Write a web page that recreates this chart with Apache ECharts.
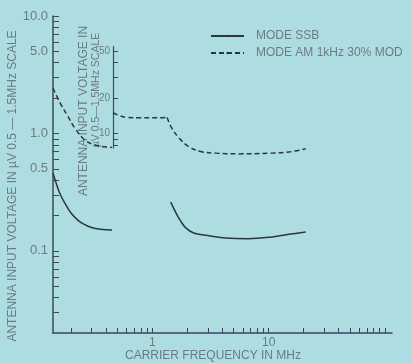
<!DOCTYPE html>
<html>
<head>
<meta charset="utf-8">
<script src="https://cdn.jsdelivr.net/npm/echarts@6/dist/echarts.min.js"></script>
<style>
  html, body { margin: 0; padding: 0; background: #aedde1; }
  #chart { width: 412px; height: 363px; }
</style>
</head>
<body>
<div id="chart"></div>
<script>
// carrier frequency (MHz) / antenna input voltage (uV) pairs
const ssbLowFreq = [0.14, 0.15, 0.16, 0.175, 0.2, 0.23, 0.26, 0.3, 0.36, 0.45];
const ssbLowLevel = [0.46, 0.37, 0.31, 0.26, 0.21, 0.182, 0.168, 0.158, 0.153, 0.151];
const ssbHighFreq = [1.44, 1.6, 1.75, 1.94, 2.27, 2.87, 4.25, 6.67, 10.5, 15.5, 20.8];
const ssbHighLevel = [0.26, 0.21, 0.18, 0.157, 0.142, 0.136, 0.129, 0.127, 0.131, 0.139, 0.145];

const amLowFreq = [0.14, 0.161, 0.185, 0.216, 0.263, 0.317, 0.39, 0.45];
const amLowLevel = [2.44, 1.82, 1.44, 1.11, 0.88, 0.80, 0.77, 0.76];
// 0.5 - 1.5 MHz part, read on the inset scale
const amMidFreq = [0.46, 0.52, 0.6, 0.8, 1.1, 1.34];
const amMidLevel = [15.0, 14.2, 13.7, 13.6, 13.6, 13.7];
const amHighFreq = [1.34, 1.47, 1.69, 2.06, 2.65, 3.49, 5.48, 10.5, 15.5, 20.8];
const amHighLevel = [1.37, 1.11, 0.92, 0.77, 0.70, 0.68, 0.67, 0.68, 0.70, 0.74];

const xTicks = [0.2, 0.3, 0.4, 0.5, 0.6, 0.7, 0.8, 0.9, 1, 2, 3, 4, 5, 6, 7, 8, 9, 10,
  20, 30, 40, 50, 60, 70, 80, 90, 100];
const xLabels = [1, 10];
const yTicks = [0.03, 0.04, 0.05, 0.06, 0.07, 0.08, 0.09, 0.1, 0.2, 0.3, 0.4, 0.5, 0.6, 0.7,
  0.8, 0.9, 1, 2, 3, 4, 5, 6, 7, 8, 9, 10];
const yLabels = [0.1, 0.5, 1, 5, 10];
const insetTicks = [8, 9, 10, 20, 30, 40, 50];
const insetLabels = [10, 20, 50];

const SSB = 'MODE SSB';
const AM = 'MODE AM 1kHz 30% MOD';

const font = "'Liberation Sans', Arial, sans-serif";
const txt = '#6a7c83';
const ink = '#2c373c';

// keep inset x scale identical to main one (main grid 53..392 px)
const xMin = 0.14, xMax = 115;
const pxPerDecade = 339 / (Math.log10(xMax) - Math.log10(xMin));
const insetXMin = Math.pow(10, Math.log10(xMin) + 60 / pxPerDecade);

const pairs = (xs, ys) => xs.map((x, i) => [x, ys[i]]);

const chart = echarts.init(document.getElementById('chart'));

const lineSeries = (name, data, dashed, idx) => ({
  name: name,
  type: 'line',
  xAxisIndex: idx || 0,
  yAxisIndex: idx || 0,
  data: data,
  smooth: 0.4,
  symbol: 'none',
  lineStyle: { color: ink, width: 1.5, type: dashed ? [5, 3] : 'solid' },
  itemStyle: { color: ink }
});

chart.setOption({
  animation: false,
  backgroundColor: '#aedde1',
  textStyle: { fontFamily: font },
  grid: [
    { left: 53, right: 20, top: 16, bottom: 30 },
    { left: 113, right: 20, top: 46.5, bottom: 363 - 148.1 }
  ],
  legend: {
    left: 205,
    top: 25,
    orient: 'vertical',
    itemWidth: 33,
    itemHeight: 3,
    itemGap: 5,
    data: [SSB, AM],
    textStyle: { color: txt, fontSize: 12, fontFamily: font, padding: [0, 0, 0, 7] }
  },
  xAxis: [{
    type: 'log',
    min: xMin,
    max: xMax,
    gridIndex: 0,
    axisLine: { show: true, lineStyle: { color: '#3b3f62', width: 1.5 } },
    axisTick: { show: true, inside: true, length: 5, customValues: xTicks,
      lineStyle: { color: '#3b3f62' } },
    axisLabel: { customValues: xLabels, color: txt, fontSize: 12, margin: 4,
      formatter: v => String(Math.round(v)) },
    splitLine: { show: false },
    minorTick: { show: false }
  }, {
    type: 'log',
    min: insetXMin,
    max: xMax,
    gridIndex: 1,
    show: false
  }],
  yAxis: [{
    type: 'log',
    min: 0.02,
    max: 10,
    gridIndex: 0,
    axisLine: { show: true, lineStyle: { color: '#3e4b51', width: 1.5 } },
    axisTick: { show: true, inside: true, length: 6, customValues: yTicks,
      lineStyle: { color: '#3e4b51' } },
    axisLabel: { customValues: yLabels, color: txt, fontSize: 13, margin: 5,
      formatter: v => v.toFixed(1) },
    splitLine: { show: false }
  }, {
    type: 'log',
    min: 7.5,
    max: 55,
    gridIndex: 1,
    axisLine: { show: true, lineStyle: { color: '#3e4b51', width: 1.2 } },
    axisTick: { show: true, inside: true, length: 5, customValues: insetTicks,
      lineStyle: { color: '#3e4b51' } },
    axisLabel: { customValues: insetLabels, color: txt, fontSize: 10, margin: 3,
      formatter: v => String(Math.round(v)) },
    splitLine: { show: false }
  }],
  graphic: [
    { type: 'text', x: 13, y: 186, rotation: Math.PI / 2,
      style: { text: 'ANTENNA INPUT VOLTAGE IN \u00b5V 0.5 \u2014 1.5MHz SCALE', fill: txt,
        font: '12px ' + font, align: 'center', verticalAlign: 'middle' } },
    { type: 'text', x: 84, y: 111, rotation: Math.PI / 2,
      style: { text: 'ANTENNA INPUT VOLTAGE IN', fill: txt,
        font: '12px ' + font, align: 'center', verticalAlign: 'middle' } },
    { type: 'text', x: 96, y: 90, rotation: Math.PI / 2,
      style: { text: '\u00b5V 0.5\u20141.5MHz SCALE', fill: txt,
        font: '10.5px ' + font, align: 'center', verticalAlign: 'middle' } },
    { type: 'text', x: 213, y: 356,
      style: { text: 'CARRIER FREQUENCY IN MHz', fill: txt,
        font: '12px ' + font, align: 'center', verticalAlign: 'middle' } }
  ],
  series: [
    lineSeries(SSB, pairs(ssbLowFreq, ssbLowLevel), false),
    lineSeries(SSB, pairs(ssbHighFreq, ssbHighLevel), false),
    lineSeries(AM, pairs(amLowFreq, amLowLevel), true),
    lineSeries(AM, pairs(amMidFreq, amMidLevel), true, 1),
    lineSeries(AM, pairs(amHighFreq, amHighLevel), true)
  ]
});
</script>
</body>
</html>
